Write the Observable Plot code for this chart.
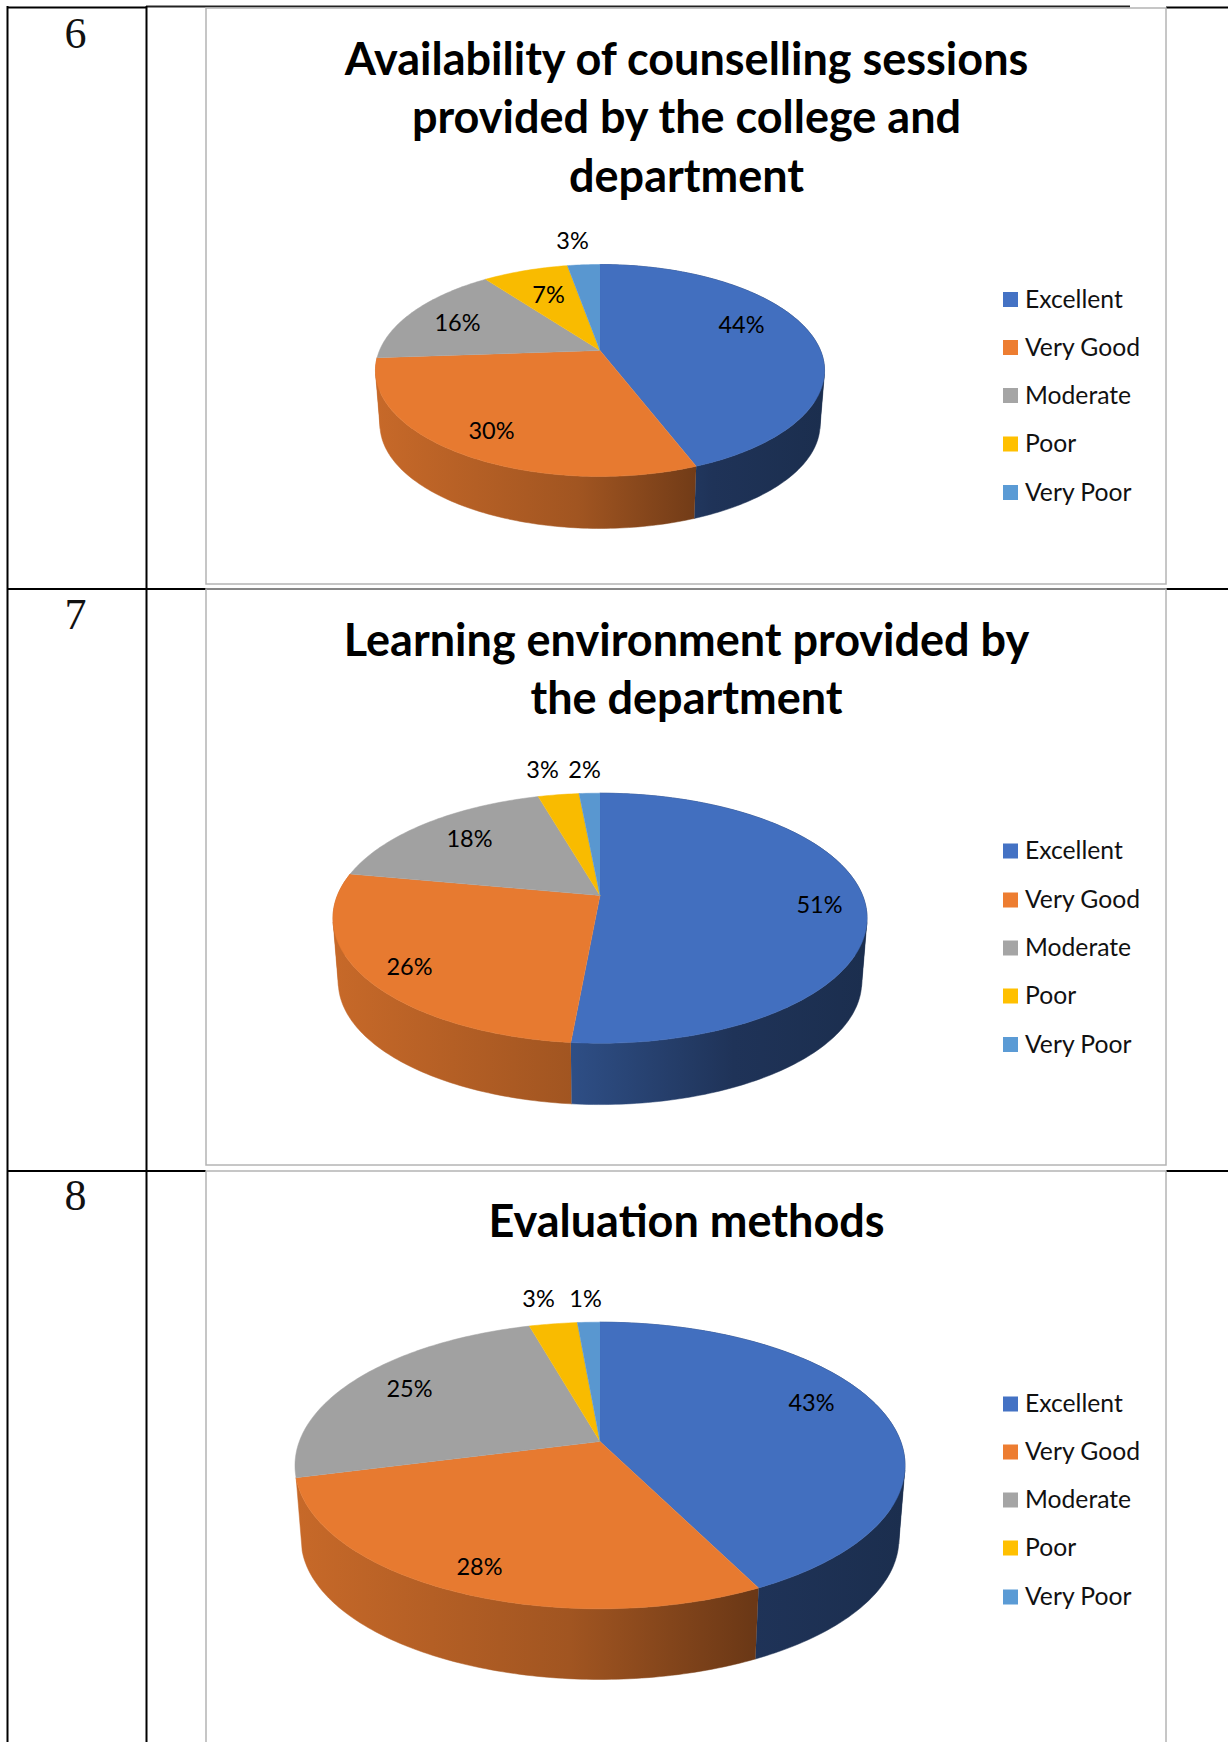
<!DOCTYPE html>
<html>
<head>
<meta charset="utf-8">
<script src="https://cdn.jsdelivr.net/npm/d3@7"></script>
<script src="https://cdn.jsdelivr.net/npm/@observablehq/plot@0.6"></script>
<style>
html,body{margin:0;padding:0;background:#fff;}
svg{display:block;}
</style>
</head>
<body>
<div id="chart"></div>
<script>
// ---- data ----
const categories = ["Excellent", "Very Good", "Moderate", "Poor", "Very Poor"];
const counselling = [44.15, 29.75, 15.9, 7.4, 2.8];
const learning = [51.45, 26.49, 17.6, 2.96, 1.5];
const evaluation = [42.6, 28.4, 24.6, 3.0, 1.4];
const rowNumbers = ["6", "7", "8"];
const titleCounselling = ["Availability of counselling sessions", "provided by the college and", "department"];
const titleLearning = ["Learning environment provided by", "the department"];
const titleEvaluation = ["Evaluation methods"];

// ---- styles and layout ----
const palette = ["#4472C4", "#ED7D31", "#A5A5A5", "#FFC000", "#5B9BD5"];
const W = 1228, H = 1742;
const pies = [
  {values: counselling, title: titleCounselling, titleY: [60, 118, 177], cx: 599.5, cy: 350, rx: 220.5, ry: 102.2, k: 0.1887, depth: 54.5,
   legendY: [299.5, 347.5, 395.5, 444, 492.5],
   labelAt: [[741, 325], [491, 431], [457, 323], [548, 295], [572, 241]]},
  {values: learning, title: titleLearning, titleY: [641, 699], cx: 599.5, cy: 895, rx: 262.6, ry: 120.9, k: 0.1816, depth: 64.3,
   legendY: [851, 900, 948, 996, 1044.5],
   labelAt: [[819, 905], [409, 967], [469, 839], [542, 770], [584, 770]]},
  {values: evaluation, title: titleEvaluation, titleY: [1222], cx: 599.5, cy: 1441, rx: 300.7, ry: 139.3, k: 0.1674, depth: 74,
   legendY: [1404, 1452, 1500, 1548, 1597],
   labelAt: [[811, 1403], [479, 1567], [409, 1389], [538, 1299], [585, 1299]]}
];
const frames = [[206, 8, 1166, 584], [206, 589, 1166, 1165], [206, 1171, 1166, 1760]];
const rowNumberY = [33, 614, 1195];
const wallScale = 0.98;
const faceShade = 0.975;
const wallCutoff = 1.4 * Math.PI; // slices starting past this angle sit at the back: their wall is hidden
const shadeStops = [[0, 0.84], [0.45, 0.68], [0.75, 0.45], [1, 0.4]];

const scaled = (c, f) => { const r = d3.rgb(c); return d3.rgb(r.r * f, r.g * f, r.b * f).formatHex(); };

// ---- geometry derived from the values ----
function project(p, theta, f, lower) {
  const u = Math.sin(theta) * f, v = -Math.cos(theta) * f, w = 1 - p.k * v;
  const s = lower ? wallScale : 1;
  return {x: p.cx + s * p.rx * u / w, y: p.cy + (lower ? p.depth : 0) + s * p.ry * v / w};
}
// signed area of a wall quad: its sign flips where the wall turns past the silhouette
function quadSign(q) {
  let a = 0;
  q.forEach((pt, i) => { const n = q[(i + 1) % q.length]; a += pt.x * n.y - n.x * pt.y; });
  return Math.sign(a);
}
const topPts = [], wallPts = [], labelRows = [], legendRows = [], titleRows = [], gradients = [];
pies.forEach((p, pi) => {
  const total = d3.sum(p.values);
  const halfWidth = p.rx / Math.sqrt(1 - p.k * p.k);
  let acc = 0;
  p.values.forEach((val, i) => {
    const a0 = acc / total * 2 * Math.PI;
    acc += val;
    const a1 = acc / total * 2 * Math.PI;
    const n = Math.max(2, Math.ceil((a1 - a0) / (Math.PI / 180)));
    const z = `p${pi}s${i}`;
    const face = scaled(palette[i], faceShade);
    const c0 = project(p, 0, 0);
    topPts.push({x: c0.x, y: c0.y, z, color: face});
    const gid = `wall-${pi}-${i}`;
    gradients.push({id: gid, x1: p.cx - halfWidth, x2: p.cx + halfWidth, color: palette[i]});
    const runs = [];
    let run = null, sign = 0;
    for (let j = 0; j <= n; j++) {
      const a = a0 + (a1 - a0) * j / n;
      const t = project(p, a, 1);
      topPts.push({x: t.x, y: t.y, z, color: face});
      if (j < n && a0 < wallCutoff) {
        const b = a0 + (a1 - a0) * (j + 1) / n;
        const tb = project(p, b, 1), lb = project(p, b, 1, true), la = project(p, a, 1, true);
        const sg = quadSign([t, tb, lb, la]);
        if (!run || sg !== sign) {
          run = {upper: [t], lower: [la]};
          runs.push(run);
          sign = sg;
        }
        run.upper.push(tb);
        run.lower.push(lb);
      }
    }
    runs.forEach((r, ri) => {
      [...r.upper, ...r.lower.reverse()].forEach(pt => wallPts.push({x: pt.x, y: pt.y, z: `${z}r${ri}`, fill: `url(#${gid})`}));
    });
    labelRows.push({text: Math.round(val) + "%", x: p.labelAt[i][0], y: p.labelAt[i][1]});
    legendRows.push({name: categories[i], y: p.legendY[i], color: palette[i]});
  });
  p.title.forEach((line, i) => titleRows.push({line, y: p.titleY[i]}));
});

// gradient definitions for the pie walls (horizontal shading across each pie)
function wallDefs() {
  const defs = d3.create("svg:defs");
  for (const g of gradients) {
    const lg = defs.append("linearGradient").attr("id", g.id).attr("gradientUnits", "userSpaceOnUse")
      .attr("x1", g.x1).attr("x2", g.x2).attr("y1", 0).attr("y2", 0);
    for (const [o, f] of shadeStops) lg.append("stop").attr("offset", o).attr("stop-color", scaled(g.color, f));
  }
  return defs.node();
}

const gridBlack = "#000";
const frameGray = "#b4b4b4";
const calibriLike = "Lato, 'Noto Sans', sans-serif";

const plot = Plot.plot({
  width: W, height: H,
  marginTop: 0, marginRight: 0, marginBottom: 0, marginLeft: 0,
  x: {domain: [0, W], range: [0, W], axis: null},
  y: {domain: [0, H], range: [0, H], axis: null},
  color: {type: "identity"},
  style: {background: "#fff"},
  marks: [
    wallDefs,
    // table grid
    Plot.ruleY([{y: 6, a: 146, b: 1130}], {y: "y", x1: "a", x2: "b", stroke: "#222", strokeWidth: 2}),
    Plot.ruleY([{y: 7, a: 7, b: 146}, {y: 7, a: 1166, b: W}, {y: 588.5, a: 7, b: W}, {y: 1170.5, a: 7, b: 206}, {y: 1170.5, a: 1166, b: W}], {y: "y", x1: "a", x2: "b", stroke: gridBlack, strokeWidth: 2}),
    Plot.ruleX([{x: 7}, {x: 146}], {x: "x", y1: 6, y2: H, stroke: gridBlack, strokeWidth: 2}),
    // chart frames
    Plot.rect(frames, {x1: d => d[0], y1: d => d[1], x2: d => d[2], y2: d => d[3], fill: "none", stroke: frameGray, strokeWidth: 1.5}),
    // row numbers
    Plot.text(rowNumbers, {text: d => d, x: () => 75, y: (d, i) => rowNumberY[i], fontFamily: "'Liberation Serif', serif", fontSize: 44, fill: "#111"}),
    // pies
    Plot.line(wallPts, {x: "x", y: "y", z: "z", fill: "fill", stroke: "fill", strokeWidth: 0.5}),
    Plot.line(topPts, {x: "x", y: "y", z: "z", fill: "color", stroke: "color", strokeWidth: 0.5}),
    // titles
    Plot.text(titleRows, {text: "line", x: () => 686, y: "y", fontFamily: calibriLike, fontWeight: 700, fontSize: 45, fill: "#000"}),
    // value labels
    Plot.text(labelRows, {text: "text", x: "x", y: "y", fontFamily: calibriLike, fontSize: 23.5, fill: "#000"}),
    // legends
    Plot.rect(legendRows, {x1: () => 1003, x2: () => 1018, y1: d => d.y - 7.5, y2: d => d.y + 7.5, fill: "color"}),
    Plot.text(legendRows, {text: "name", x: () => 1024.5, y: "y", textAnchor: "start", fontFamily: calibriLike, fontSize: 24.7, fill: "#111"})
  ]
});
document.getElementById("chart").appendChild(plot);
</script>
</body>
</html>
